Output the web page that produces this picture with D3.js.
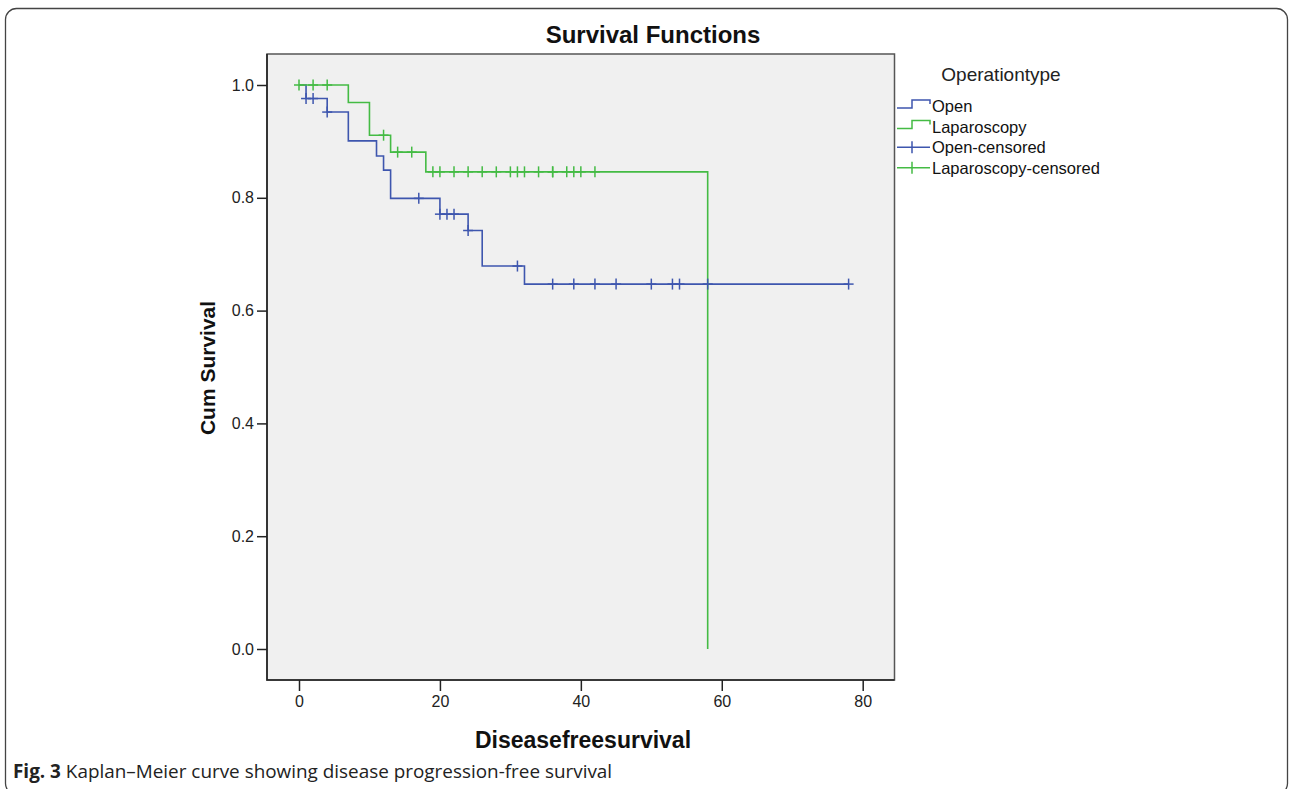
<!DOCTYPE html>
<html>
<head>
<meta charset="utf-8">
<script src="https://cdn.jsdelivr.net/npm/d3@7"></script>
<style>
  body { margin: 0; background: #fff; }
  svg { display: block; font-family: "Liberation Sans", Arial, sans-serif; }
</style>
</head>
<body>
<svg id="chart" width="1292" height="789"></svg>
<script>
// Kaplan-Meier steps
const openTimes = [0, 1, 4, 7, 11, 12, 13, 20, 24, 26, 32];
const openSurv = [1, 0.976, 0.952, 0.901, 0.874, 0.849, 0.799, 0.771, 0.742, 0.679, 0.647];
const openEnd = 78;
const openCensored = [1, 2, 4, 17, 20, 21, 22, 24, 31, 36, 39, 42, 45, 50, 53, 54, 58, 78];

const lapTimes = [0, 7, 10, 13, 18, 58];
const lapSurv = [1, 0.969, 0.911, 0.881, 0.846, 0];
const lapCensored = [0, 2, 4, 12, 14, 16, 19, 20, 22, 24, 26, 28, 30, 31, 32, 34, 36, 36, 38, 39, 40, 42];

const xTicks = [0, 20, 40, 60, 80];
const yTicks = [0, 0.2, 0.4, 0.6, 0.8, 1.0];

const legendLabels = ["Open", "Laparoscopy", "Open-censored", "Laparoscopy-censored"];
const blue = "#3e56ae", green = "#44bb44";

const svg = d3.select("#chart");

// outer frame of the figure
svg.append("rect")
  .attr("x", 5.5).attr("y", 8.5)
  .attr("width", 1282).attr("height", 786)
  .attr("rx", 11)
  .attr("fill", "none")
  .attr("stroke", "#444")
  .attr("stroke-width", 1.3);

const box = { left: 267, right: 894.5, top: 54, bottom: 680 };

const x = d3.scaleLinear().domain([0, 80]).range([299, 862.7]);
const y = d3.scaleLinear().domain([0, 1]).range([649, 85]);

svg.append("rect")
  .attr("x", box.left).attr("y", box.top)
  .attr("width", box.right - box.left).attr("height", box.bottom - box.top)
  .attr("fill", "#f0f0f0")
  .attr("stroke", "#555")
  .attr("stroke-width", 1.5);
// left & bottom frame darker
svg.append("path")
  .attr("d", `M${box.left},${box.top}V${box.bottom}H${box.right}`)
  .attr("fill", "none").attr("stroke", "#222").attr("stroke-width", 1.6);

// axes
svg.append("g")
  .attr("transform", `translate(${box.left},0)`)
  .call(d3.axisLeft(y).tickValues(yTicks).tickSize(10).tickPadding(3).tickFormat(d3.format(".1f")))
  .call(g => g.select(".domain").remove())
  .call(g => g.selectAll("line").attr("stroke", "#222").attr("stroke-width", 1.5))
  .call(g => g.selectAll("text").attr("fill", "#222").style("font-size", "16px").style("font-family", "Liberation Sans, Arial"));

svg.append("g")
  .attr("transform", `translate(0,${box.bottom})`)
  .call(d3.axisBottom(x).tickValues(xTicks).tickSize(11).tickPadding(5).tickFormat(d3.format("d")))
  .call(g => g.select(".domain").remove())
  .call(g => g.selectAll("line").attr("stroke", "#222").attr("stroke-width", 1.5))
  .call(g => g.selectAll("text").attr("fill", "#222").style("font-size", "16px").style("font-family", "Liberation Sans, Arial"));

// titles
svg.append("text")
  .attr("x", 653).attr("y", 43)
  .attr("text-anchor", "middle")
  .style("font-size", "24px").style("font-weight", "bold")
  .attr("fill", "#111")
  .text("Survival Functions");

svg.append("text")
  .attr("transform", "translate(215,368) rotate(-90)")
  .attr("text-anchor", "middle")
  .style("font-size", "21px").style("font-weight", "bold")
  .attr("fill", "#111")
  .text("Cum Survival");

svg.append("text")
  .attr("x", 583).attr("y", 748)
  .attr("text-anchor", "middle")
  .style("font-size", "23px").style("font-weight", "bold")
  .attr("fill", "#111")
  .text("Diseasefreesurvival");

// survival curves
function stepPoints(times, surv, end) {
  const pts = times.map((t, i) => [t, surv[i]]);
  if (end != null) pts.push([end, surv[surv.length - 1]]);
  return pts;
}
function survAt(times, surv, t) {
  let s = surv[0];
  times.forEach((tt, i) => { if (tt <= t) s = surv[i]; });
  return s;
}

const line = d3.line()
  .x(d => x(d[0])).y(d => y(d[1]))
  .curve(d3.curveStepAfter);

const curves = [
  { pts: stepPoints(openTimes, openSurv, openEnd), color: blue },
  { pts: stepPoints(lapTimes, lapSurv, null), color: green }
];
svg.append("g").selectAll("path")
  .data(curves)
  .enter().append("path")
  .attr("d", d => line(d.pts))
  .attr("fill", "none")
  .attr("stroke", d => d.color)
  .attr("stroke-width", 1.6);

// censor marks
function drawCensors(times, surv, cens, color) {
  const g = svg.append("g").attr("stroke", color).attr("stroke-width", 1.5);
  cens.forEach(t => {
    const cx = x(t), cy = y(survAt(times, surv, t));
    g.append("line").attr("x1", cx).attr("x2", cx).attr("y1", cy - 5.5).attr("y2", cy + 5.5);
    g.append("line").attr("x1", cx - 5).attr("x2", cx + 5).attr("y1", cy).attr("y2", cy);
  });
}
drawCensors(openTimes, openSurv, openCensored, blue);
drawCensors(lapTimes, lapSurv, lapCensored, green);

// legend
const legend = svg.append("g").attr("transform", "translate(897,0)");
legend.append("text")
  .attr("x", 104).attr("y", 81)
  .attr("text-anchor", "middle")
  .style("font-size", "19px")
  .attr("fill", "#222")
  .text("Operationtype");

const legendColors = [blue, green, blue, green];
legendLabels.forEach((lab, i) => {
  const cy = 106 + i * 20.6;
  const c = legendColors[i];
  if (i < 2) {
    legend.append("path")
      .attr("d", `M0,${cy + 2}H15V${cy - 6}H33V${cy - 2}`)
      .attr("fill", "none").attr("stroke", c).attr("stroke-width", 1.5);
  } else {
    legend.append("path")
      .attr("d", `M0,${cy}H33M15,${cy - 6}V${cy + 6}`)
      .attr("fill", "none").attr("stroke", c).attr("stroke-width", 1.5);
  }
  legend.append("text")
    .attr("x", 35).attr("y", cy + 6)
    .style("font-size", "16.5px")
    .attr("fill", "#111")
    .text(lab);
});

// caption
const cap = svg.append("text")
  .attr("x", 13).attr("y", 778)
  .style("font-family", "'Open Sans', 'Noto Sans', sans-serif")
  .style("font-size", "18.9px")
  .attr("fill", "#222");
cap.append("tspan").style("font-weight", "bold").text("Fig. 3");
cap.append("tspan").text(" Kaplan–Meier curve showing disease progression-free survival");
</script>
</body>
</html>
